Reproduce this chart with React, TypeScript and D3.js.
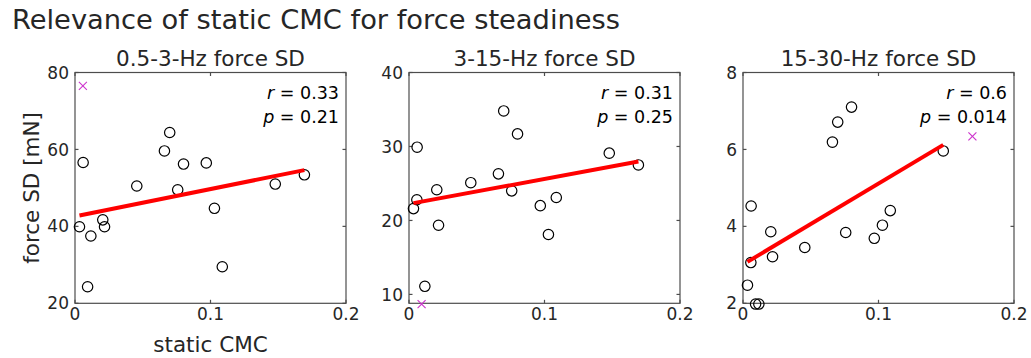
import React from 'react';
import * as d3 from 'd3';

// Static corticomuscular coherence per subject (shared across the three panels)
const staticCMC = [0.0033, 0.006, 0.0058, 0.0093, 0.0117, 0.0205, 0.0218, 0.0456, 0.066, 0.0699, 0.0758, 0.0801, 0.0969, 0.1029, 0.1087, 0.1478, 0.1693];

// Force SD [mN] in each frequency band, same subject order as staticCMC
const sdLowBand = [39.9, 56.6, 76.5, 24.3, 37.5, 41.7, 39.9, 50.5, 59.6, 64.4, 49.5, 56.2, 56.5, 44.7, 29.5, 51.0, 53.4];
const sdMidBand = [21.6, 29.9, 22.8, 8.7, 11.1, 24.15, 19.35, 25.1, 26.3, 34.8, 24.0, 31.7, 22.0, 18.1, 23.1, 29.1, 27.5];
const sdHighBand = [2.47, 4.53, 3.06, 1.98, 1.98, 3.86, 3.21, 3.45, 6.19, 6.71, 3.84, 7.1, 3.69, 4.03, 4.41, 5.96, 6.34];

// Subject excluded from the fit in each panel (drawn as a cross)
const outlierIndex = [2, 3, 16];

const panelTitles = ['0.5-3-Hz force SD', '3-15-Hz force SD', '15-30-Hz force SD'];
const yDomains: [number, number][] = [[20, 80], [8.8, 40], [2, 8]];
const yTickValues = [[20, 40, 60, 80], [10, 20, 30, 40], [2, 4, 6, 8]];
const xTickValues = [0, 0.1, 0.2];
const rLabels = ['0.33', '0.31', '0.6'];
const pLabels = ['0.21', '0.25', '0.014'];

const bands = [sdLowBand, sdMidBand, sdHighBand];

const FONT = '"DejaVu Sans", sans-serif';
const TEXT = '#262626';
const AXIS = '#4d4d4d';
const panelLeft = [75, 409, 743];
const panelWidth = 271;
const top = 72.5;
const bottom = 303.3;
const tick = 3.5;

function fit(xs: number[], ys: number[]) {
  const mx = d3.mean(xs)!;
  const my = d3.mean(ys)!;
  let sxy = 0;
  let sxx = 0;
  xs.forEach((x, i) => {
    sxy += (x - mx) * (ys[i] - my);
    sxx += (x - mx) * (x - mx);
  });
  const slope = sxy / sxx;
  return { slope, intercept: my - slope * mx };
}

function Panel({ k }: { k: number }) {
  const left = panelLeft[k];
  const right = left + panelWidth;
  const x = d3.scaleLinear().domain([0, 0.2]).range([left, right]);
  const y = d3.scaleLinear().domain(yDomains[k]).range([bottom, top]);
  const ys = bands[k];
  const out = outlierIndex[k];
  const keptX = staticCMC.filter((_, i) => i !== out);
  const keptY = ys.filter((_, i) => i !== out);
  const { slope, intercept } = fit(keptX, keptY);
  const [x0, x1] = d3.extent(keptX) as [number, number];
  const line = d3.line<number>().x((v) => x(v)).y((v) => y(intercept + slope * v));
  const cx = x(staticCMC[out]);
  const cy = y(ys[out]);
  const s = 4;

  return (
    <g>
      <text x={(left + right) / 2} y={66} textAnchor="middle" fontSize={21.5} fill={TEXT} fontFamily={FONT}>
        {panelTitles[k]}
      </text>
      {/* box */}
      <rect x={left} y={top} width={panelWidth} height={bottom - top} fill="none" stroke={AXIS} strokeWidth={1.2} />
      {yTickValues[k].map((t) => (
        <g key={'y' + t}>
          <line x1={left} x2={left + tick} y1={y(t)} y2={y(t)} stroke={AXIS} strokeWidth={1.2} />
          <line x1={right} x2={right - tick} y1={y(t)} y2={y(t)} stroke={AXIS} strokeWidth={1.2} />
          <text x={left - 6} y={y(t)} dy="0.36em" textAnchor="end" fontSize={17} fill={TEXT} fontFamily={FONT}>
            {t}
          </text>
        </g>
      ))}
      {xTickValues.map((t) => (
        <g key={'x' + t}>
          <line x1={x(t)} x2={x(t)} y1={bottom} y2={bottom - tick} stroke={AXIS} strokeWidth={1.2} />
          <line x1={x(t)} x2={x(t)} y1={top} y2={top + tick} stroke={AXIS} strokeWidth={1.2} />
          <text x={x(t)} y={320} textAnchor="middle" fontSize={17} fill={TEXT} fontFamily={FONT}>
            {t}
          </text>
        </g>
      ))}
      {staticCMC.map((v, i) =>
        i === out ? null : (
          <circle key={i} cx={x(v)} cy={y(ys[i])} r={5.2} fill="none" stroke="#000" strokeWidth={1.2} />
        )
      )}
      <path d={line([x0, x1]) || ''} stroke="#ff0000" strokeWidth={4} fill="none" />
      <g stroke="#cc33cc" strokeWidth={1.1}>
        <line x1={cx - s} y1={cy - s} x2={cx + s} y2={cy + s} />
        <line x1={cx - s} y1={cy + s} x2={cx + s} y2={cy - s} />
      </g>
      <text x={right - 7} y={top + 26} textAnchor="end" fontSize={17.5} fill="#000" fontFamily={FONT}>
        <tspan fontStyle="italic">r</tspan> = {rLabels[k]}
      </text>
      <text x={right - 7} y={top + 50} textAnchor="end" fontSize={17.5} fill="#000" fontFamily={FONT}>
        <tspan fontStyle="italic">p</tspan> = {pLabels[k]}
      </text>
    </g>
  );
}

export default function App() {
  return (
    <svg width={1031} height={358} style={{ position: 'absolute', left: 0, top: 0, background: '#fff' }}>
      <rect width={1031} height={358} fill="#fff" />
      <text x={12} y={28.5} fontSize={27.3} fill={TEXT} fontFamily={FONT}>
        Relevance of static CMC for force steadiness
      </text>
      {[0, 1, 2].map((k) => (
        <Panel key={k} k={k} />
      ))}
      <text
        transform={`translate(39,${(top + bottom) / 2}) rotate(-90)`}
        textAnchor="middle"
        fontSize={21.5}
        fill={TEXT}
        fontFamily={FONT}
      >
        force SD [mN]
      </text>
      <text x={(panelLeft[0] + panelLeft[0] + panelWidth) / 2} y={351.5} textAnchor="middle" fontSize={21.5} fill={TEXT} fontFamily={FONT}>
        static CMC
      </text>
    </svg>
  );
}
